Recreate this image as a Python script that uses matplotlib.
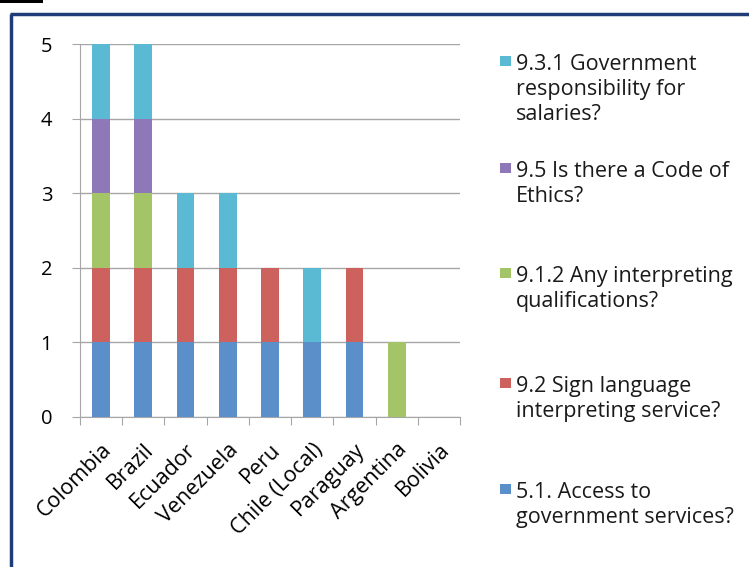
import matplotlib
matplotlib.use("Agg")
import matplotlib.pyplot as plt
from matplotlib.patches import Rectangle
from matplotlib.lines import Line2D
import numpy as np

plt.rcParams['font.family'] = ['Open Sans', 'DejaVu Sans']

countries = ["Colombia", "Brazil", "Ecuador", "Venezuela", "Peru",
             "Chile (Local)", "Paraguay", "Argentina", "Bolivia"]
access_51 = [1, 1, 1, 1, 1, 1, 1, 0, 0]
sign_92 = [1, 1, 1, 1, 1, 0, 1, 0, 0]
qual_912 = [1, 1, 0, 0, 0, 0, 0, 1, 0]
ethics_95 = [1, 1, 0, 0, 0, 0, 0, 0, 0]
salaries_931 = [1, 1, 1, 1, 0, 1, 0, 0, 0]

series_labels = ["5.1. Access to\ngovernment services?",
                 "9.2 Sign language\ninterpreting service?",
                 "9.1.2 Any interpreting\nqualifications?",
                 "9.5 Is there a Code of\nEthics?",
                 "9.3.1 Government\nresponsibility for\nsalaries?"]
series_values = [access_51, sign_92, qual_912, ethics_95, salaries_931]
colors = ["#5B8FCA", "#CD615E", "#A3C467", "#8F78B7", "#5AB9D3"]

W, H = 749, 567
fig = plt.figure(figsize=(W / 100, H / 100), dpi=100)
ax = fig.add_axes([80 / W, 1 - 417 / H, 380 / W, 373 / H])

x = np.arange(len(countries))
bottom = np.zeros(len(countries))
for vals, col in zip(series_values, colors):
    v = np.array(vals, dtype=float)
    ax.bar(x, v, bottom=bottom, width=0.42, color=col, zorder=3,
           edgecolor="none", linewidth=0)
    bottom += v

ax.set_xlim(-0.5, len(countries) - 0.5)
ax.set_ylim(0, 5)
ax.set_yticks(range(6))
ax.yaxis.grid(True, color="#A6A6A6", linewidth=1, zorder=0)
ax.set_axisbelow(True)
for s in ["top", "right"]:
    ax.spines[s].set_visible(False)
for s in ["left", "bottom"]:
    ax.spines[s].set_color("#A6A6A6")
ax.tick_params(axis="y", length=6, color="#A6A6A6", labelsize=14.5, pad=14)
ax.set_xticks(np.arange(len(countries) + 1) - 0.5, minor=False)
ax.set_xticklabels([])
ax.tick_params(axis="x", which="major", length=6, color="#A6A6A6")
ax.set_xticks(x, minor=True)
ax.set_xticklabels(countries, minor=True, rotation=45, ha="right",
                   rotation_mode="anchor", fontsize=15.5)
ax.tick_params(axis="x", which="minor", length=0, pad=16)

# legend drawn manually, top to bottom in reverse series order
legend_tops = [61, 168, 273, 383, 489]
for i, (lab, col) in enumerate(zip(series_labels[::-1], colors[::-1])):
    ytop = legend_tops[i]
    fig.patches.append(Rectangle((500 / W, 1 - (ytop + 5) / H), 11 / W, 10 / H,
                                 transform=fig.transFigure, facecolor=col,
                                 edgecolor="none"))
    fig.text(516 / W, 1 - (ytop - 7) / H, lab, fontsize=15.5, va="top",
             ha="left", linespacing=1.25, color="#1a1a1a")

# frame
navy = "#1F3C78"
fig.add_artist(Line2D([11 / W, 11 / W], [0, 1 - 14 / H], color=navy,
                      linewidth=2.5, transform=fig.transFigure,
                      solid_capstyle="butt"))
fig.add_artist(Line2D([10 / W, 1], [1 - 14 / H, 1 - 14 / H], color=navy,
                      linewidth=2.5, transform=fig.transFigure,
                      solid_capstyle="butt"))
fig.patches.append(Rectangle((0, 1 - 3 / H), 43 / W, 3 / H,
                             transform=fig.transFigure, facecolor="black",
                             edgecolor="none"))

fig.savefig("out.png", dpi=100)
